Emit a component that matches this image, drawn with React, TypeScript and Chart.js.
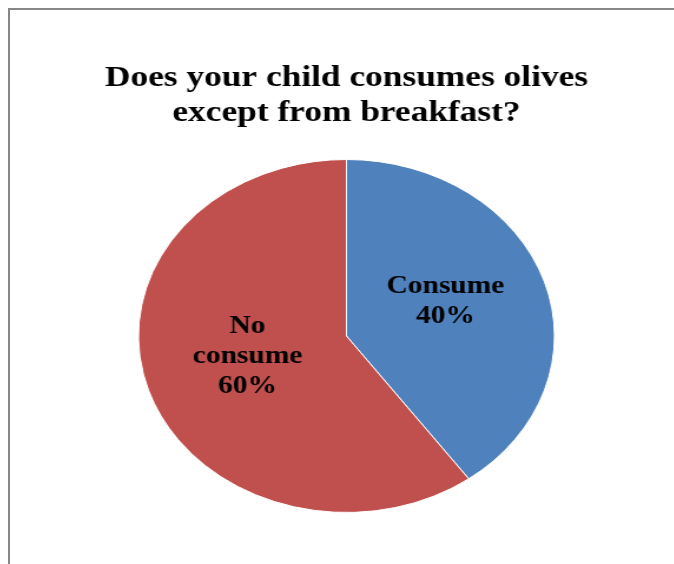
import React, { useEffect, useRef } from "react";
import { Chart, registerables } from "chart.js";

Chart.register(...registerables);

const titleLines = ["Does your child consumes olives", "except from breakfast?"];
const categories = ["Consume", "No consume"];
const labelLines = [["Consume"], ["No", "consume"]];
const values = [40, 60];
const colors = ["#4F81BD", "#C0504D"];

// horizontal stretch of the original picture
const STRETCH = 1.178;
const CSS_W = 680;
const CSS_H = 554;

const labelPlugin = {
  id: "sliceLabels",
  afterDatasetsDraw(chart: any) {
    const ctx = chart.ctx;
    const meta = chart.getDatasetMeta(0);
    ctx.save();
    ctx.font = "bold 25px 'Liberation Serif', 'Times New Roman', serif";
    ctx.fillStyle = "#000";
    ctx.textAlign = "center";
    ctx.textBaseline = "middle";
    const lh = 30;
    meta.data.forEach((arc: any, i: number) => {
      const p = arc.tooltipPosition();
      const lines = [...labelLines[i], `${values[i]}%`];
      const n = lines.length;
      lines.forEach((t, j) => {
        const y = p.y + (j - (n - 1) / 2) * lh - 7;
        ctx.fillText(t, p.x, y);
      });
    });
    ctx.restore();
  },
};

export default function App() {
  const ref = useRef<HTMLCanvasElement>(null);
  useEffect(() => {
    document.documentElement.style.overflow = "hidden";
    document.documentElement.style.background = "#fff";
    document.body.style.margin = "0";
    document.body.style.overflow = "hidden";
    if (!ref.current) return;
    const chart = new Chart(ref.current, {
      type: "pie",
      data: {
        labels: categories,
        datasets: [
          {
            data: values,
            backgroundColor: colors,
            borderColor: "#ffffff",
            borderWidth: 1,
          },
        ],
      },
      options: {
        responsive: false,
        maintainAspectRatio: false,
        animation: false,
        layout: { padding: { left: 0, right: 6, bottom: 51 } },
        plugins: {
          legend: { display: false },
          tooltip: { enabled: false },
          title: {
            display: true,
            text: titleLines,
            color: "#000",
            font: {
              family: "'Liberation Serif', 'Times New Roman', serif",
              size: 30,
              weight: "bold",
              lineHeight: 35 / 30,
            },
            padding: { top: 50.5, bottom: 28.5 },
          },
        },
      },
      plugins: [labelPlugin],
    });
    return () => chart.destroy();
  }, []);

  return (
    <div
      style={{
        position: "fixed",
        left: 8,
        top: 8,
        width: CSS_W + 2,
        height: CSS_H + 2,
        borderTop: "2px solid #878787",
        borderLeft: "2px solid #878787",
        background: "#fff",
        boxSizing: "border-box",
        overflow: "hidden",
      }}
    >
      <canvas
        ref={ref}
        width={Math.round(CSS_W / STRETCH)}
        height={CSS_H}
        style={{ width: CSS_W, height: CSS_H, display: "block" }}
      />
    </div>
  );
}
